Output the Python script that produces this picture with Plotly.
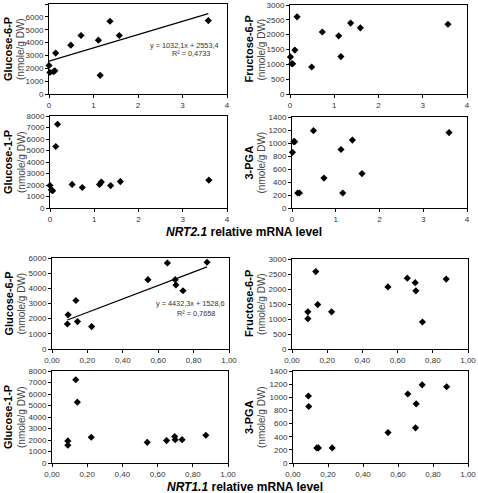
import plotly.graph_objects as go

# ---------------- data ----------------
nrt21_g6p_x = [0.00, 0.02, 0.10, 0.13, 0.15, 0.49, 0.72, 1.11, 1.15, 1.37, 1.58, 3.58]
nrt21_g6p_y = [2220, 1680, 1730, 1810, 3180, 3800, 4550, 4190, 1450, 5660, 4550, 5710]

nrt21_f6p_x = [0.01, 0.04, 0.06, 0.11, 0.16, 0.49, 0.73, 1.10, 1.15, 1.37, 1.59, 3.57]
nrt21_f6p_y = [1250, 1020, 1020, 1480, 2600, 910, 2090, 1960, 1260, 2390, 2230, 2350]

nrt21_g1p_x = [0.00, 0.03, 0.06, 0.13, 0.17, 0.50, 0.73, 1.12, 1.16, 1.37, 1.59, 3.59]
nrt21_g1p_y = [1950, 1580, 1500, 5350, 7280, 2050, 1780, 2050, 2250, 1950, 2300, 2420]

nrt21_pga_x = [0.01, 0.04, 0.06, 0.13, 0.17, 0.49, 0.73, 1.12, 1.16, 1.38, 1.60, 3.59]
nrt21_pga_y = [856, 1020, 1020, 231, 231, 1190, 460, 900, 231, 1045, 530, 1160]

nrt11_g6p_x = [0.091, 0.087, 0.135, 0.144, 0.224, 0.542, 0.652, 0.696, 0.700, 0.740, 0.876]
nrt11_g6p_y = [2250, 1650, 3200, 1810, 1480, 4570, 5670, 4570, 4220, 3840, 5720]

nrt11_f6p_x = [0.090, 0.090, 0.135, 0.146, 0.225, 0.545, 0.655, 0.700, 0.704, 0.741, 0.876]
nrt11_f6p_y = [1240, 1010, 2580, 1480, 1240, 2070, 2360, 2210, 1940, 900, 2330]

nrt11_g1p_x = [0.090, 0.090, 0.135, 0.144, 0.223, 0.541, 0.651, 0.697, 0.700, 0.739, 0.874]
nrt11_g1p_y = [1920, 1540, 7240, 5290, 2240, 1800, 1950, 2300, 2030, 2030, 2410]

nrt11_pga_x = [0.088, 0.090, 0.136, 0.145, 0.224, 0.543, 0.656, 0.704, 0.700, 0.738, 0.878]
nrt11_pga_y = [1020, 860, 229, 229, 229, 463, 1050, 900, 535, 1190, 1160]

fit_nrt21_g6p = dict(slope=1032.1, intercept=2553.4, r2=0.4733)
fit_nrt11_g6p = dict(slope=4432.3, intercept=1528.6, r2=0.7658)

ytitles = ["Glucose-6-P", "Fructose-6-P", "Glucose-1-P", "3-PGA"]
yunit = "(nmole/g DW)"
xlabel_top = "<b><i>NRT2.1</i> relative mRNA level</b>"
xlabel_bot = "<b><i>NRT1.1</i> relative mRNA level</b>"

# ---------------- layout ----------------
W, H = 478, 493
FONT = "Liberation Sans, Arial, sans-serif"

# pixel boxes (x0, x1, ytop, ybottom)
boxes = [
    (49, 227, 4, 94), (290, 467, 5, 94),
    (50, 227, 116, 208), (292, 467, 117, 208),
    (52, 229, 258, 349), (292, 468, 259, 349),
    (52, 228, 371, 463), (293, 468, 371, 463),
]
yranges = [(7000, 1000), (3000, 500), (8000, 1000), (1400, 200),
           (6000, 1000), (3000, 500), (8000, 1000), (1400, 200)]
datasets = [
    (nrt21_g6p_x, nrt21_g6p_y), (nrt21_f6p_x, nrt21_f6p_y),
    (nrt21_g1p_x, nrt21_g1p_y), (nrt21_pga_x, nrt21_pga_y),
    (nrt11_g6p_x, nrt11_g6p_y), (nrt11_f6p_x, nrt11_f6p_y),
    (nrt11_g1p_x, nrt11_g1p_y), (nrt11_pga_x, nrt11_pga_y),
]

fig = go.Figure()
layout = dict(
    width=W, height=H, margin=dict(l=0, r=0, t=0, b=0, pad=0, autoexpand=False),
    paper_bgcolor="white", plot_bgcolor="white", showlegend=False,
    font=dict(family=FONT, size=8, color="#333"),
    separators=", ",
)
annotations = []

for i, ((x0, x1, yt, yb), (ymax, dy), (xs, ys)) in enumerate(zip(boxes, yranges, datasets)):
    n = i + 1
    xa = "xaxis" if n == 1 else f"xaxis{n}"
    ya = "yaxis" if n == 1 else f"yaxis{n}"
    xref = "x" if n == 1 else f"x{n}"
    yref = "y" if n == 1 else f"y{n}"
    top = i < 4
    common = dict(showline=True, linecolor="black", linewidth=1, mirror=True,
                  ticks="outside", ticklen=3, tickcolor="black", showgrid=False,
                  zeroline=False, automargin=False,
                  tickfont=dict(size=8, color="#333", family=FONT))
    if top:
        layout[xa] = dict(domain=[x0 / W, x1 / W], range=[0, 4], dtick=1, tick0=0,
                          anchor=yref, **common)
    else:
        layout[xa] = dict(domain=[x0 / W, x1 / W], range=[0, 1], dtick=0.2, tick0=0,
                          tickformat=".2f", anchor=yref, **common)
    layout[ya] = dict(domain=[1 - yb / H, 1 - yt / H], range=[0, ymax], dtick=dy, tick0=0,
                      tickformat="d", anchor=xref, **common)

    fig.add_trace(go.Scatter(x=xs, y=ys, mode="markers", xaxis=xref, yaxis=yref,
                             cliponaxis=False, hoverinfo="skip",
                             marker=dict(symbol="diamond", size=5.5, color="black")))

    # y titles
    right = (i % 2 == 1)
    bx = 249 if right else 8
    ux = 261 if right else 21
    cy = (yt + yb) / 2
    annotations.append(dict(text="<b>" + ytitles[i % 4] + "</b>", x=bx / W, y=1 - cy / H,
                            xref="paper", yref="paper", textangle=-90, showarrow=False,
                            font=dict(size=11, color="black", family=FONT),
                            xanchor="center", yanchor="middle"))
    annotations.append(dict(text=yunit, x=ux / W, y=1 - cy / H,
                            xref="paper", yref="paper", textangle=-90, showarrow=False,
                            font=dict(size=10, color="#444", family=FONT),
                            xanchor="center", yanchor="middle"))

# trend lines
def add_fit(fit, xs, xref, yref, ex, ey, rx, ry):
    xa, xb = min(xs), max(xs)
    fig.add_trace(go.Scatter(x=[xa, xb],
                             y=[fit["slope"] * xa + fit["intercept"], fit["slope"] * xb + fit["intercept"]],
                             mode="lines", xaxis=xref, yaxis=yref, hoverinfo="skip",
                             line=dict(color="black", width=1.2)))
    eq = "y = {:.1f}x + {:.1f}".format(fit["slope"], fit["intercept"]).replace(".", ",")
    r2 = "R² = {:.4f}".format(fit["r2"]).replace(".", ",")
    annotations.append(dict(text=eq, x=ex / W, y=1 - ey / H, xref="paper", yref="paper",
                            xanchor="center", yanchor="middle",
                            showarrow=False, font=dict(size=7.3, color="#333", family=FONT)))
    annotations.append(dict(text=r2, x=rx / W, y=1 - ry / H, xref="paper", yref="paper",
                            xanchor="center", yanchor="middle",
                            showarrow=False, font=dict(size=7.3, color="#333", family=FONT)))

add_fit(fit_nrt21_g6p, [0.0, 3.58], "x", "y", 184, 45, 191, 54)
add_fit(fit_nrt11_g6p, nrt11_g6p_x, "x5", "y5", 190, 303, 196, 313)

annotations.append(dict(text=xlabel_top, x=244 / W, y=1 - 232 / H, xref="paper", yref="paper",
                        xanchor="center", yanchor="middle",
                        showarrow=False, font=dict(size=12, color="black", family=FONT)))
annotations.append(dict(text=xlabel_bot, x=245 / W, y=1 - 487 / H, xref="paper", yref="paper",
                        xanchor="center", yanchor="middle",
                        showarrow=False, font=dict(size=12, color="black", family=FONT)))

layout["annotations"] = annotations
fig.update_layout(**layout)
fig.write_html("out.html", config={"displayModeBar": False, "staticPlot": True},
               post_script="document.body.style.margin='0';document.body.style.overflow='hidden';")
